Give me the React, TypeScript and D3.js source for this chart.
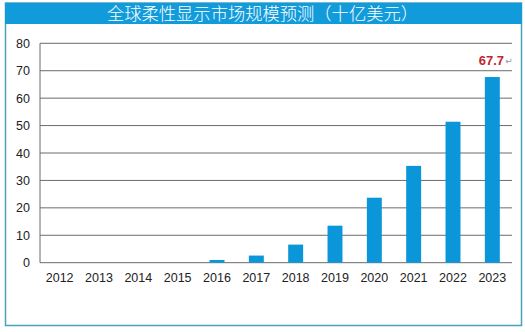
import React from "react";
import * as d3 from "d3";

const TITLE = "全球柔性显示市场规模预测（十亿美元）";
const years = ["2012","2013","2014","2015","2016","2017","2018","2019","2020","2021","2022","2023"];
const values = [0, 0, 0, 0, 1.0, 2.6, 6.6, 13.5, 23.7, 35.3, 51.4, 67.7];
const yTicks = [0, 10, 20, 30, 40, 50, 60, 70, 80];
const highlightLabel = "67.7";

export default function App() {
  const W = 525, H = 332;
  const left = 40, right = 512, top = 43.3, bottom = 262.7;
  const x = d3.scaleBand().domain(years).range([left, right]).paddingInner(0.62).paddingOuter(0.31);
  const y = d3.scaleLinear().domain([0, 80]).range([bottom, top]);
  const font = "Arial, 'Liberation Sans', sans-serif";
  const lastYear = years[years.length - 1];
  const lastVal = values[values.length - 1];
  return (
    <svg width={W} height={H} style={{ position: "absolute", left: 0, top: 0 }}>
      <rect x={0} y={0} width={W} height={H} fill="#fff" />
      <rect x={5.5} y={3} width={516} height={322.5} fill="#fff" stroke="#4aa3bd" strokeWidth={1.5} />
      <rect x={5} y={3} width={517} height={21} fill="#129bdb" />
      <text x={262.5} y={20} textAnchor="middle" fill="#fff" fontSize={17.3} fontWeight={300} fontFamily="'Noto Sans CJK SC', sans-serif">{TITLE}</text>
      {yTicks.map((t) => (
        <g key={t}>
          {t > 0 && <line x1={left} x2={right} y1={y(t)} y2={y(t)} stroke="#6b6b6b" strokeWidth={1} />}
          <text x={30} y={y(t) + 4.5} textAnchor="end" fontSize={12.5} fontFamily={font} fill="#222">{t}</text>
        </g>
      ))}
      <line x1={left} x2={left} y1={top} y2={bottom} stroke="#6b6b6b" />
      <line x1={left} x2={right} y1={bottom} y2={bottom} stroke="#6b6b6b" />
      {years.map((yr, i) => (
        <g key={yr}>
          {values[i] > 0 && (
            <rect x={x(yr)} y={y(values[i])} width={x.bandwidth()} height={bottom - y(values[i])} fill="#0a96d8" />
          )}
          <text x={(x(yr) as number) + x.bandwidth() / 2} y={282} textAnchor="middle" fontSize={12.5} fontFamily={font} fill="#222">{yr}</text>
        </g>
      ))}
      <text x={(x(lastYear) as number) + x.bandwidth() / 2 - 1} y={y(lastVal) - 12} textAnchor="middle" fontSize={13} fontWeight="bold" fontFamily={font} fill="#c0282d">{highlightLabel}</text>
      <text x={(x(lastYear) as number) + x.bandwidth() / 2 + 13} y={y(lastVal) - 13} fontSize={9} fontFamily="'DejaVu Sans', sans-serif" fill="#999">↵</text>
    </svg>
  );
}
